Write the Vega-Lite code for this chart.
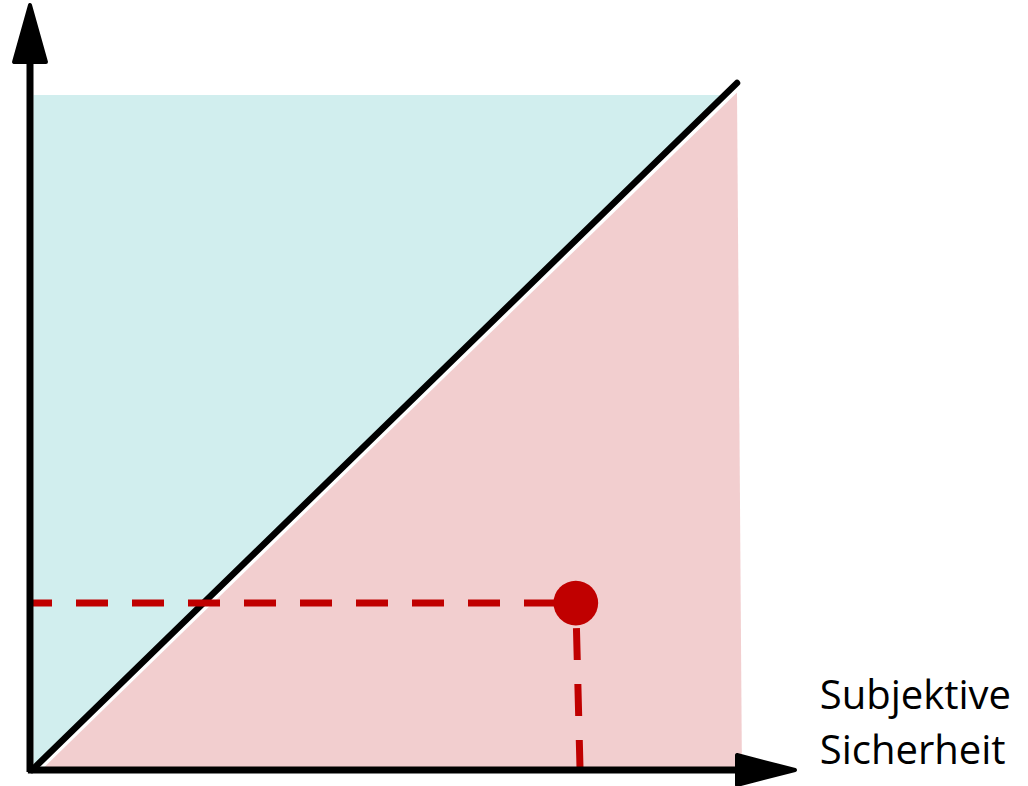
{
  "$schema": "https://vega.github.io/schema/vega-lite/v6.json",
  "width": 707,
  "height": 687,
  "autosize": "none",
  "padding": {"left": 30, "top": 83, "right": 291, "bottom": 16},
  "background": "white",
  "config": {"view": {"stroke": null}},
  "datasets": {
    "teal": [
      {"x": 0.5, "lo": 0.5, "hi": 98.25},
      {"x": 98.25, "lo": 98.25, "hi": 98.25}
    ],
    "pink": [
      {"x": 1.6, "lo": 0, "hi": 0},
      {"x": 100.0, "lo": 0, "hi": 98.6},
      {"x": 100.7, "lo": 0, "hi": 0}
    ],
    "diag": [{"x": 0.3, "y": 0, "x2": 100, "y2": 100}],
    "axes": [
      {"x": 0, "y": -0.3, "x2": 0, "y2": 103.5},
      {"x": -0.3, "y": 0, "x2": 100.5, "y2": 0}
    ],
    "yarrow": [
      {"x": -2.26, "lo": 103.06, "hi": 103.06},
      {"x": 0, "lo": 103.06, "hi": 111.35},
      {"x": 2.26, "lo": 103.06, "hi": 103.06}
    ],
    "xarrow": [
      {"y": -2.18, "lo": 100, "hi": 100},
      {"y": 0, "lo": 100, "hi": 108.2},
      {"y": 2.18, "lo": 100, "hi": 100}
    ],
    "hdash": [{"x": 0, "y": 24.3, "x2": 77.2, "y2": 24.3}],
    "vdash": [{"x": 77.8, "y": 0, "x2": 77.2, "y2": 24.3}],
    "pt": [{"x": 77.2, "y": 24.3}],
    "labels": [
      {"x": 111.7, "y": 8.88, "text": "Subjektive"},
      {"x": 111.7, "y": 0.87, "text": "Sicherheit"}
    ]
  },
  "layer": [
    {
      "data": {"name": "teal"},
      "mark": {"type": "area", "color": "#D1EEEE", "clip": false},
      "encoding": {
        "x": {"field": "x", "type": "quantitative", "scale": {"domain": [0, 100]}, "axis": null},
        "y": {"field": "lo", "type": "quantitative", "scale": {"domain": [0, 100]}, "axis": null},
        "y2": {"field": "hi"}
      }
    },
    {
      "data": {"name": "pink"},
      "mark": {"type": "area", "color": "#F2CECF", "clip": false},
      "encoding": {
        "x": {"field": "x", "type": "quantitative"},
        "y": {"field": "lo", "type": "quantitative"},
        "y2": {"field": "hi"}
      }
    },
    {
      "data": {"name": "diag"},
      "mark": {"type": "rule", "color": "black", "strokeWidth": 6.5, "strokeCap": "round", "clip": false},
      "encoding": {
        "x": {"field": "x", "type": "quantitative"},
        "y": {"field": "y", "type": "quantitative"},
        "x2": {"field": "x2"},
        "y2": {"field": "y2"}
      }
    },
    {
      "data": {"name": "hdash"},
      "mark": {"type": "rule", "color": "#C00000", "strokeWidth": 7, "strokeDash": [32, 24], "strokeDashOffset": 10, "clip": false},
      "encoding": {
        "x": {"field": "x", "type": "quantitative"},
        "y": {"field": "y", "type": "quantitative"},
        "x2": {"field": "x2"},
        "y2": {"field": "y2"}
      }
    },
    {
      "data": {"name": "vdash"},
      "mark": {"type": "rule", "color": "#C00000", "strokeWidth": 7, "strokeDash": [32, 24], "strokeDashOffset": 2, "clip": false},
      "encoding": {
        "x": {"field": "x", "type": "quantitative"},
        "y": {"field": "y", "type": "quantitative"},
        "x2": {"field": "x2"},
        "y2": {"field": "y2"}
      }
    },
    {
      "data": {"name": "axes"},
      "mark": {"type": "rule", "color": "black", "strokeWidth": 7, "strokeCap": "butt", "clip": false},
      "encoding": {
        "x": {"field": "x", "type": "quantitative"},
        "y": {"field": "y", "type": "quantitative"},
        "x2": {"field": "x2"},
        "y2": {"field": "y2"}
      }
    },
    {
      "data": {"name": "yarrow"},
      "mark": {"type": "area", "color": "black", "stroke": "black", "strokeWidth": 4, "strokeJoin": "round", "clip": false},
      "encoding": {
        "x": {"field": "x", "type": "quantitative"},
        "y": {"field": "lo", "type": "quantitative"},
        "y2": {"field": "hi"}
      }
    },
    {
      "data": {"name": "xarrow"},
      "mark": {"type": "area", "orient": "horizontal", "color": "black", "stroke": "black", "strokeWidth": 4, "strokeJoin": "round", "clip": false},
      "encoding": {
        "y": {"field": "y", "type": "quantitative"},
        "x": {"field": "lo", "type": "quantitative"},
        "x2": {"field": "hi"}
      }
    },
    {
      "data": {"name": "pt"},
      "mark": {"type": "point", "filled": true, "color": "#C00000", "opacity": 1, "size": 2000, "clip": false},
      "encoding": {
        "x": {"field": "x", "type": "quantitative"},
        "y": {"field": "y", "type": "quantitative"}
      }
    },
    {
      "data": {"name": "labels"},
      "mark": {"type": "text", "align": "left", "baseline": "alphabetic", "font": "Open Sans", "fontSize": 40, "color": "black", "clip": false},
      "encoding": {
        "x": {"field": "x", "type": "quantitative"},
        "y": {"field": "y", "type": "quantitative"},
        "text": {"field": "text"}
      }
    }
  ]
}
